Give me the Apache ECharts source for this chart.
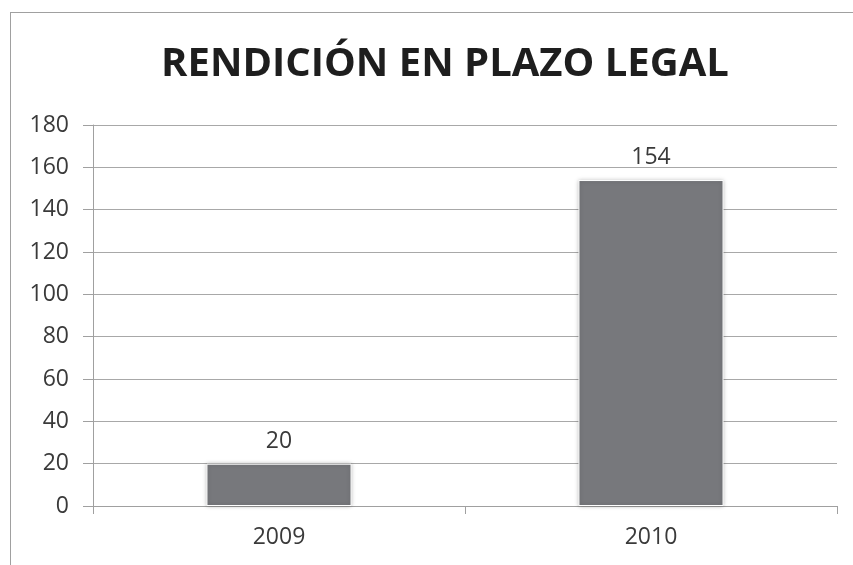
<!DOCTYPE html>
<html>
<head>
<meta charset="utf-8">
<script src="https://cdn.jsdelivr.net/npm/echarts@6/dist/echarts.min.js"></script>
<style>
    html, body { margin: 0; padding: 0; background: #fff; overflow: hidden; }
    #frame { position: absolute; left: 10px; top: 12px; width: 900px; height: 600px; border: 1px solid #a0a0a0; border-width: 1px 0 0 1px; }
    #main { position: absolute; left: 0; top: 0; width: 853px; height: 565px; }
</style>
</head>
<body>
<div id="frame"></div>
<div id="main"></div>
<script>
// datos del grafico
let years = ['2009', '2010'];
let rendiciones = [20, 154];
let yTicks = [0, 20, 40, 60, 80, 100, 120, 140, 160, 180];

window.addEventListener('load', function () {
    let chart = echarts.init(document.getElementById('main'));
    let font = 'Open Sans';
    let option = {
        title: {
            text: 'RENDICIÓN EN PLAZO LEGAL',
            left: 440,
            top: 40,
            textAlign: 'center',
            textStyle: { fontFamily: font, fontWeight: 'bold', fontSize: 40, color: '#1e1e1e' }
        },
        grid: { left: 93, right: 16, top: 125, bottom: 59 },
        xAxis: {
            type: 'category',
            data: years,
            axisLine: { lineStyle: { color: '#a0a0a0' } },
            axisTick: { show: true, length: 8, lineStyle: { color: '#a0a0a0' } },
            axisLabel: { fontFamily: font, fontSize: 23, color: '#3a3a3a', margin: 20 }
        },
        yAxis: {
            type: 'value',
            min: yTicks[0],
            max: yTicks[yTicks.length - 1],
            interval: 20,
            axisLine: { show: true, lineStyle: { color: '#a0a0a0' } },
            axisTick: { show: true, inside: false, length: 10, lineStyle: { color: '#a0a0a0' } },
            splitLine: { lineStyle: { color: '#a8a8a8' } },
            axisLabel: { fontFamily: font, fontSize: 23, color: '#3a3a3a', margin: 24 }
        },
        series: [{
            type: 'bar',
            data: rendiciones,
            barWidth: '39%',
            itemStyle: {
                color: '#77787c',
                borderColor: '#fff',
                borderWidth: 1,
                shadowColor: 'rgba(0,0,0,0.25)',
                shadowBlur: 4
            },
            label: {
                show: true,
                position: 'top',
                distance: 11,
                fontFamily: font,
                fontSize: 23,
                color: '#3a3a3a'
            }
        }]
    };
    chart.setOption(option);
}, false);
</script>
</body>
</html>
